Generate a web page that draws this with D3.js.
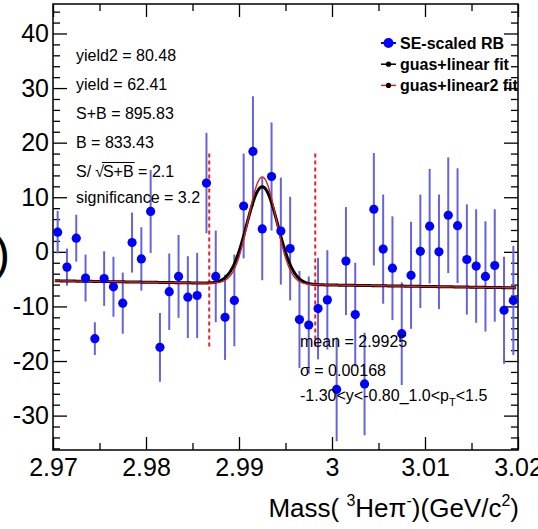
<!DOCTYPE html>
<html>
<head>
<meta charset="utf-8">
<script src="https://cdnjs.cloudflare.com/ajax/libs/d3/7.8.5/d3.min.js"></script>
<style>
body{margin:0;background:#fff;}
svg{display:block;font-family:"Liberation Sans",Arial,Helvetica,sans-serif;}
</style>
</head>
<body>
<svg width="538" height="529"></svg>
<script>
// bin centres (GeV/c^2)
var mass = [2.9705,2.9715,2.9725,2.9735,2.9745,2.9755,2.9765,2.9775,2.9785,2.9795,
            2.9805,2.9815,2.9825,2.9835,2.9845,2.9855,2.9865,2.9875,2.9885,2.9895,
            2.9905,2.9915,2.9925,2.9935,2.9945,2.9955,2.9965,2.9975,2.9985,2.9995,
            3.0005,3.0015,3.0025,3.0035,3.0045,3.0055,3.0065,3.0075,3.0085,3.0095,
            3.0105,3.0115,3.0125,3.0135,3.0145,3.0155,3.0165,3.0175,3.0185,3.0195];
var counts = [3.6,-2.8,2.5,-4.8,-15.9,-4.9,-6.4,-9.4,1.7,-1.3,
              7.4,-17.5,-7.3,-4.5,-8.3,-8.0,12.6,-4.5,-12.0,-8.9,
              8.4,18.4,4.2,13.8,3.8,0.6,-12.4,-13.4,-10.4,-8.8,
              -25.2,-1.7,-11.5,-24.2,7.8,0.5,-3.0,-15.0,-4.3,0.1,
              4.7,0.0,6.7,4.8,-1.4,-2.6,-4.5,-2.5,-10.7,-8.9];
var errs = [3.9,3.4,4.3,4.3,3.0,5.0,5.5,5.6,5.5,5.8,
            7.6,6.3,7.0,7.6,7.5,7.8,9.2,8.4,7.8,8.4,
            9.6,10.1,9.4,9.9,9.8,9.5,8.9,8.9,9.3,9.1,
            9.5,9.9,9.5,9.4,10.3,10.0,9.5,9.4,9.8,10.4,
            10.5,10.5,10.6,10.5,10.1,10.4,10.1,10.3,9.8,10.0];

var xTicks = [2.97,2.98,2.99,3.00,3.01,3.02];
var xTickLabels = ['2.97','2.98','2.99','3','3.01','3.02'];
var xMinor = [2.975,2.985,2.995,3.005,3.015];
var yTicks = [-30,-20,-10,0,10,20,30,40];
var yTickLabels = ['-30','-20','-10','0','10','20','30','40'];

var cutLines = [2.9868,2.9982];
var cutRange = [-17.6,18.0];

// fit parameters: gaus + linear background
var fit1 = {amp:17.8, mean:2.9925, sigma:0.00168, p0:-5.3, p1:-26};
var fit2 = {amp:19.6, mean:2.9925, sigma:0.00150, p0:-5.3, p1:-26};
var fitRange = [2.9702,3.0198];

var statsLines = ['yield2 = 80.48','yield = 62.41','S+B = 895.83','B = 833.43'];
var legendLabels = ['SE-scaled RB','guas+linear fit','guas+linear2 fit'];

var svg = d3.select('svg');
var width = +svg.attr('width'), height = +svg.attr('height');
var margin = {left:53,right:20,top:4,bottom:79};
var innerwidth = width - margin.left - margin.right;
var innerheight = height - margin.top - margin.bottom;

var xscale = d3.scaleLinear().domain([2.97,3.02]).range([0,innerwidth]);
var yscale = d3.scaleLinear().domain([-36.3,45.4]).range([innerheight,0]);

var g = svg.append('g').attr('transform',`translate(${margin.left},${margin.top})`);

function fitval(f,x){
	return f.amp*Math.exp(-0.5*Math.pow((x-f.mean)/f.sigma,2)) + f.p0 + f.p1*(x-2.97);
}

// axes, ROOT style ticks on all four sides
var yMinor = d3.range(-36,46,2).filter(v => v%10 !== 0);
g.append('g').attr('class','ax').call(d3.axisLeft(yscale).tickValues(yTicks)
	.tickFormat((d,i) => yTickLabels[i]).tickSize(-14).tickPadding(4));
g.append('g').attr('class','ax').call(d3.axisLeft(yscale).tickValues(yMinor).tickFormat('').tickSize(-7));
g.append('g').attr('class','ax').attr('transform',`translate(${innerwidth},0)`)
	.call(d3.axisRight(yscale).tickValues(yTicks).tickFormat('').tickSize(-14));
g.append('g').attr('class','ax').attr('transform',`translate(${innerwidth},0)`)
	.call(d3.axisRight(yscale).tickValues(yMinor).tickFormat('').tickSize(-7));
g.append('g').attr('class','ax').attr('transform',`translate(0,${innerheight})`)
	.call(d3.axisBottom(xscale).tickValues(xTicks).tickFormat((d,i) => xTickLabels[i]).tickSize(-13).tickPadding(8));
g.append('g').attr('class','ax').attr('transform',`translate(0,${innerheight})`)
	.call(d3.axisBottom(xscale).tickValues(xMinor).tickFormat('').tickSize(-7));
g.append('g').attr('class','ax').call(d3.axisTop(xscale).tickValues(xTicks).tickFormat('').tickSize(-13));
g.append('g').attr('class','ax').call(d3.axisTop(xscale).tickValues(xMinor).tickFormat('').tickSize(-7));

g.selectAll('.ax .domain').remove();
g.selectAll('.ax line').attr('stroke','#000').attr('stroke-width',1.3);
g.selectAll('.ax text').attr('font-size',25).attr('fill','#000')
	.attr('font-family','"Liberation Sans",Arial,sans-serif');

g.append('rect').attr('x',0).attr('y',0).attr('width',innerwidth).attr('height',innerheight)
	.attr('fill','none').attr('stroke','#000').attr('stroke-width',1.5);

// error bars and points
var pts = mass.map((m,i) => ({m:m, v:counts[i], e:errs[i]}));
g.append('g').selectAll('line').data(pts).enter().append('line')
	.attr('x1',d => xscale(d.m)).attr('x2',d => xscale(d.m))
	.attr('y1',d => yscale(d.v+d.e)).attr('y2',d => yscale(d.v-d.e))
	.attr('stroke','#6464dc').attr('stroke-width',2);

// signal window
g.append('g').selectAll('line').data(cutLines).enter().append('line')
	.attr('x1',d => xscale(d)).attr('x2',d => xscale(d))
	.attr('y1',yscale(cutRange[1])).attr('y2',yscale(cutRange[0]))
	.attr('stroke','#e8202a').attr('stroke-width',2).attr('stroke-dasharray','4,3');

// fits
var xs = d3.range(fitRange[0],fitRange[1],0.0001).concat([fitRange[1]]);
var line = f => d3.line().x(d => xscale(d)).y(d => yscale(fitval(f,d)))(xs);
g.append('path').attr('d',line(fit1)).attr('fill','none').attr('stroke','#000').attr('stroke-width',3);
g.append('path').attr('d',line(fit2)).attr('fill','none').attr('stroke','#d42424').attr('stroke-width',1.4);

g.append('g').selectAll('circle').data(pts).enter().append('circle')
	.attr('cx',d => xscale(d.m)).attr('cy',d => yscale(d.v)).attr('r',4.6).attr('fill','#0000ff');

// stats text
var st = svg.append('g').attr('font-size',16).attr('fill','#000');
statsLines.forEach(function(s,i){
	st.append('text').attr('x',76).attr('y',61 + i*28.9).text(s);
});
var sy = 177;
var t1 = st.append('text').attr('x',76).attr('y',sy).text('S/');
var w1 = t1.node().getComputedTextLength();
var t2 = st.append('text').attr('x',76+w1+4).attr('y',sy).text('\u221A');
var w2 = t2.node().getComputedTextLength();
var sx = 76+w1+4+w2-1;
var t3 = st.append('text').attr('x',sx).attr('y',sy).text('S+B');
var w3 = t3.node().getComputedTextLength();
st.append('line').attr('x1',sx-1).attr('x2',sx+w3+1).attr('y1',sy-14.5).attr('y2',sy-14.5)
	.attr('stroke','#000').attr('stroke-width',1);
st.append('text').attr('x',sx+w3+4.5).attr('y',sy).text('= 2.1');
st.append('text').attr('x',76).attr('y',203).text('significance = 3.2');

st.append('text').attr('x',300).attr('y',347).text('mean = 2.9925');
st.append('text').attr('x',300).attr('y',376).text('\u03C3 = 0.00168');
var kin = st.append('text').attr('x',300).attr('y',401);
kin.append('tspan').text('-1.30<y<-0.80_1.0<p');
kin.append('tspan').attr('font-size',11).attr('dy',5).text('T');
kin.append('tspan').attr('dy',-5).text('<1.5');

// legend
var lg = svg.append('g').attr('font-size',16).attr('font-weight','bold');
var legColors = ['#0000ff','#000','#d42424'];
legendLabels.forEach(function(s,i){
	var yy = 43 + i*21.2;
	lg.append('line').attr('x1',381).attr('x2',396).attr('y1',yy).attr('y2',yy)
		.attr('stroke',legColors[i]).attr('stroke-width',i === 0 ? 2 : 1.5);
	lg.append('circle').attr('cx',388.5).attr('cy',yy).attr('r',i === 0 ? 5 : 2.6)
		.attr('fill',i === 0 ? '#0000ff' : '#000');
	lg.append('text').attr('x',400).attr('y',yy+5.5).text(s);
});

// x axis title
var tt = svg.append('text').attr('x',519).attr('y',517).attr('text-anchor','end').attr('font-size',26);
tt.append('tspan').text('Mass( ');
tt.append('tspan').attr('font-size',16).attr('dy',-11).text('3');
tt.append('tspan').attr('dy',11).text('He\u03C0');
tt.append('tspan').attr('font-size',16).attr('dy',-11).text('-');
tt.append('tspan').attr('dy',11).text(')(GeV/c');
tt.append('tspan').attr('font-size',16).attr('dy',-11).text('2');
tt.append('tspan').attr('dy',11).text(')');

// clipped piece of the neighbouring label
svg.append('text').attr('x',-6).attr('y',270).attr('font-size',48).text(')');
</script>
</body>
</html>
